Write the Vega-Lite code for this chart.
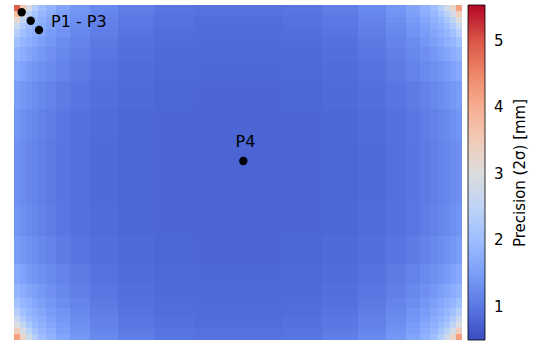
{
"$schema": "https://vega.github.io/schema/vega-lite/v6.json",
"width": 448, "height": 335,
"padding": {"left": 14, "top": 5, "right": 0, "bottom": 0},
"background": "white",
"config": {"view": {"stroke": null},
 "legend": {"gradientLength": 335, "gradientThickness": 17, "offset": 6, "padding": 0, "labelFontSize": 15, "labelFont": "DejaVu Sans", "labelColor": "black", "titleFontSize": 15, "titleFont": "DejaVu Sans", "titleFontWeight": "normal", "titleColor": "black", "gradientStrokeColor": "black", "gradientStrokeWidth": 0.8}},
"datasets": {
"cols": [{"c":0,"x0":0,"x1":6},{"c":1,"x0":6,"x1":12},{"c":2,"x0":12,"x1":18},{"c":3,"x0":18,"x1":24},{"c":4,"x0":24,"x1":32},{"c":5,"x0":32,"x1":42},{"c":6,"x0":42,"x1":56},{"c":7,"x0":56,"x1":76},{"c":8,"x0":76,"x1":104},{"c":9,"x0":104,"x1":140},{"c":10,"x0":140,"x1":180},{"c":11,"x0":180,"x1":224},{"c":12,"x0":224,"x1":268},{"c":13,"x0":268,"x1":308},{"c":14,"x0":308,"x1":344},{"c":15,"x0":344,"x1":372},{"c":16,"x0":372,"x1":392},{"c":17,"x0":392,"x1":406},{"c":18,"x0":406,"x1":416},{"c":19,"x0":416,"x1":424},{"c":20,"x0":424,"x1":430},{"c":21,"x0":430,"x1":436},{"c":22,"x0":436,"x1":442},{"c":23,"x0":442,"x1":448}],
"rows": [{"r":0,"y0":0,"y1":6},{"r":1,"y0":6,"y1":12},{"r":2,"y0":12,"y1":18},{"r":3,"y0":18,"y1":24},{"r":4,"y0":24,"y1":32},{"r":5,"y0":32,"y1":42},{"r":6,"y0":42,"y1":56},{"r":7,"y0":56,"y1":76},{"r":8,"y0":76,"y1":104},{"r":9,"y0":104,"y1":135},{"r":10,"y0":135,"y1":168},{"r":11,"y0":168,"y1":200},{"r":12,"y0":200,"y1":231},{"r":13,"y0":231,"y1":259},{"r":14,"y0":259,"y1":279},{"r":15,"y0":279,"y1":293},{"r":16,"y0":293,"y1":303},{"r":17,"y0":303,"y1":311},{"r":18,"y0":311,"y1":317},{"r":19,"y0":317,"y1":323},{"r":20,"y0":323,"y1":329},{"r":21,"y0":329,"y1":335}],
"cells": [
{"r":0,"c":0,"v":4.9},{"r":0,"c":1,"v":3.6},{"r":0,"c":2,"v":2.95},{"r":0,"c":3,"v":2.35},{"r":0,"c":4,"v":2.01},{"r":0,"c":5,"v":1.8},{"r":0,"c":6,"v":1.6},{"r":0,"c":7,"v":1.4},{"r":0,"c":8,"v":1.22},{"r":0,"c":9,"v":1.08},{"r":0,"c":10,"v":0.98},{"r":0,"c":11,"v":0.94},{"r":0,"c":12,"v":0.94},{"r":0,"c":13,"v":0.98},{"r":0,"c":14,"v":1.08},{"r":0,"c":15,"v":1.22},{"r":0,"c":16,"v":1.4},{"r":0,"c":17,"v":1.6},{"r":0,"c":18,"v":1.8},{"r":0,"c":19,"v":2.01},{"r":0,"c":20,"v":2.35},{"r":0,"c":21,"v":2.75},{"r":0,"c":22,"v":3.27},{"r":0,"c":23,"v":4.2},
{"r":1,"c":0,"v":3.8},{"r":1,"c":1,"v":3.1},{"r":1,"c":2,"v":2.42},{"r":1,"c":3,"v":2.11},{"r":1,"c":4,"v":1.89},{"r":1,"c":5,"v":1.71},{"r":1,"c":6,"v":1.52},{"r":1,"c":7,"v":1.35},{"r":1,"c":8,"v":1.18},{"r":1,"c":9,"v":1.04},{"r":1,"c":10,"v":0.95},{"r":1,"c":11,"v":0.92},{"r":1,"c":12,"v":0.92},{"r":1,"c":13,"v":0.95},{"r":1,"c":14,"v":1.04},{"r":1,"c":15,"v":1.18},{"r":1,"c":16,"v":1.35},{"r":1,"c":17,"v":1.52},{"r":1,"c":18,"v":1.71},{"r":1,"c":19,"v":1.89},{"r":1,"c":20,"v":2.11},{"r":1,"c":21,"v":2.42},{"r":1,"c":22,"v":2.86},{"r":1,"c":23,"v":3.43},
{"r":2,"c":0,"v":3.2},{"r":2,"c":1,"v":2.52},{"r":2,"c":2,"v":2.18},{"r":2,"c":3,"v":1.95},{"r":2,"c":4,"v":1.78},{"r":2,"c":5,"v":1.63},{"r":2,"c":6,"v":1.46},{"r":2,"c":7,"v":1.3},{"r":2,"c":8,"v":1.14},{"r":2,"c":9,"v":1.01},{"r":2,"c":10,"v":0.93},{"r":2,"c":11,"v":0.89},{"r":2,"c":12,"v":0.89},{"r":2,"c":13,"v":0.93},{"r":2,"c":14,"v":1.01},{"r":2,"c":15,"v":1.14},{"r":2,"c":16,"v":1.3},{"r":2,"c":17,"v":1.46},{"r":2,"c":18,"v":1.63},{"r":2,"c":19,"v":1.78},{"r":2,"c":20,"v":1.95},{"r":2,"c":21,"v":2.18},{"r":2,"c":22,"v":2.52},{"r":2,"c":23,"v":3.01},
{"r":3,"c":0,"v":2.66},{"r":3,"c":1,"v":2.27},{"r":3,"c":2,"v":1.99},{"r":3,"c":3,"v":1.83},{"r":3,"c":4,"v":1.7},{"r":3,"c":5,"v":1.55},{"r":3,"c":6,"v":1.4},{"r":3,"c":7,"v":1.26},{"r":3,"c":8,"v":1.11},{"r":3,"c":9,"v":0.99},{"r":3,"c":10,"v":0.91},{"r":3,"c":11,"v":0.88},{"r":3,"c":12,"v":0.88},{"r":3,"c":13,"v":0.91},{"r":3,"c":14,"v":0.99},{"r":3,"c":15,"v":1.11},{"r":3,"c":16,"v":1.26},{"r":3,"c":17,"v":1.4},{"r":3,"c":18,"v":1.55},{"r":3,"c":19,"v":1.7},{"r":3,"c":20,"v":1.83},{"r":3,"c":21,"v":1.99},{"r":3,"c":22,"v":2.27},{"r":3,"c":23,"v":2.66},
{"r":4,"c":0,"v":2.35},{"r":4,"c":1,"v":2.04},{"r":4,"c":2,"v":1.86},{"r":4,"c":3,"v":1.73},{"r":4,"c":4,"v":1.61},{"r":4,"c":5,"v":1.48},{"r":4,"c":6,"v":1.35},{"r":4,"c":7,"v":1.21},{"r":4,"c":8,"v":1.08},{"r":4,"c":9,"v":0.96},{"r":4,"c":10,"v":0.89},{"r":4,"c":11,"v":0.86},{"r":4,"c":12,"v":0.86},{"r":4,"c":13,"v":0.89},{"r":4,"c":14,"v":0.96},{"r":4,"c":15,"v":1.08},{"r":4,"c":16,"v":1.21},{"r":4,"c":17,"v":1.35},{"r":4,"c":18,"v":1.48},{"r":4,"c":19,"v":1.61},{"r":4,"c":20,"v":1.73},{"r":4,"c":21,"v":1.86},{"r":4,"c":22,"v":2.04},{"r":4,"c":23,"v":2.35},
{"r":5,"c":0,"v":2.06},{"r":5,"c":1,"v":1.87},{"r":5,"c":2,"v":1.74},{"r":5,"c":3,"v":1.63},{"r":5,"c":4,"v":1.51},{"r":5,"c":5,"v":1.4},{"r":5,"c":6,"v":1.28},{"r":5,"c":7,"v":1.16},{"r":5,"c":8,"v":1.03},{"r":5,"c":9,"v":0.93},{"r":5,"c":10,"v":0.87},{"r":5,"c":11,"v":0.84},{"r":5,"c":12,"v":0.84},{"r":5,"c":13,"v":0.87},{"r":5,"c":14,"v":0.93},{"r":5,"c":15,"v":1.03},{"r":5,"c":16,"v":1.16},{"r":5,"c":17,"v":1.28},{"r":5,"c":18,"v":1.4},{"r":5,"c":19,"v":1.51},{"r":5,"c":20,"v":1.63},{"r":5,"c":21,"v":1.74},{"r":5,"c":22,"v":1.87},{"r":5,"c":23,"v":2.06},
{"r":6,"c":0,"v":1.85},{"r":6,"c":1,"v":1.72},{"r":6,"c":2,"v":1.61},{"r":6,"c":3,"v":1.51},{"r":6,"c":4,"v":1.42},{"r":6,"c":5,"v":1.32},{"r":6,"c":6,"v":1.21},{"r":6,"c":7,"v":1.1},{"r":6,"c":8,"v":0.99},{"r":6,"c":9,"v":0.9},{"r":6,"c":10,"v":0.85},{"r":6,"c":11,"v":0.83},{"r":6,"c":12,"v":0.83},{"r":6,"c":13,"v":0.85},{"r":6,"c":14,"v":0.9},{"r":6,"c":15,"v":0.99},{"r":6,"c":16,"v":1.1},{"r":6,"c":17,"v":1.21},{"r":6,"c":18,"v":1.32},{"r":6,"c":19,"v":1.42},{"r":6,"c":20,"v":1.51},{"r":6,"c":21,"v":1.61},{"r":6,"c":22,"v":1.72},{"r":6,"c":23,"v":1.85},
{"r":7,"c":0,"v":1.66},{"r":7,"c":1,"v":1.56},{"r":7,"c":2,"v":1.46},{"r":7,"c":3,"v":1.39},{"r":7,"c":4,"v":1.31},{"r":7,"c":5,"v":1.23},{"r":7,"c":6,"v":1.14},{"r":7,"c":7,"v":1.04},{"r":7,"c":8,"v":0.94},{"r":7,"c":9,"v":0.87},{"r":7,"c":10,"v":0.83},{"r":7,"c":11,"v":0.81},{"r":7,"c":12,"v":0.81},{"r":7,"c":13,"v":0.83},{"r":7,"c":14,"v":0.87},{"r":7,"c":15,"v":0.94},{"r":7,"c":16,"v":1.04},{"r":7,"c":17,"v":1.14},{"r":7,"c":18,"v":1.23},{"r":7,"c":19,"v":1.31},{"r":7,"c":20,"v":1.39},{"r":7,"c":21,"v":1.46},{"r":7,"c":22,"v":1.56},{"r":7,"c":23,"v":1.66},
{"r":8,"c":0,"v":1.49},{"r":8,"c":1,"v":1.41},{"r":8,"c":2,"v":1.34},{"r":8,"c":3,"v":1.27},{"r":8,"c":4,"v":1.21},{"r":8,"c":5,"v":1.14},{"r":8,"c":6,"v":1.06},{"r":8,"c":7,"v":0.98},{"r":8,"c":8,"v":0.9},{"r":8,"c":9,"v":0.84},{"r":8,"c":10,"v":0.8},{"r":8,"c":11,"v":0.79},{"r":8,"c":12,"v":0.79},{"r":8,"c":13,"v":0.8},{"r":8,"c":14,"v":0.84},{"r":8,"c":15,"v":0.9},{"r":8,"c":16,"v":0.98},{"r":8,"c":17,"v":1.06},{"r":8,"c":18,"v":1.14},{"r":8,"c":19,"v":1.21},{"r":8,"c":20,"v":1.27},{"r":8,"c":21,"v":1.34},{"r":8,"c":22,"v":1.41},{"r":8,"c":23,"v":1.49},
{"r":9,"c":0,"v":1.38},{"r":9,"c":1,"v":1.3},{"r":9,"c":2,"v":1.24},{"r":9,"c":3,"v":1.19},{"r":9,"c":4,"v":1.13},{"r":9,"c":5,"v":1.07},{"r":9,"c":6,"v":1.0},{"r":9,"c":7,"v":0.93},{"r":9,"c":8,"v":0.86},{"r":9,"c":9,"v":0.82},{"r":9,"c":10,"v":0.79},{"r":9,"c":11,"v":0.78},{"r":9,"c":12,"v":0.78},{"r":9,"c":13,"v":0.79},{"r":9,"c":14,"v":0.82},{"r":9,"c":15,"v":0.86},{"r":9,"c":16,"v":0.93},{"r":9,"c":17,"v":1.0},{"r":9,"c":18,"v":1.07},{"r":9,"c":19,"v":1.13},{"r":9,"c":20,"v":1.19},{"r":9,"c":21,"v":1.24},{"r":9,"c":22,"v":1.3},{"r":9,"c":23,"v":1.38},
{"r":10,"c":0,"v":1.32},{"r":10,"c":1,"v":1.26},{"r":10,"c":2,"v":1.2},{"r":10,"c":3,"v":1.15},{"r":10,"c":4,"v":1.1},{"r":10,"c":5,"v":1.04},{"r":10,"c":6,"v":0.98},{"r":10,"c":7,"v":0.91},{"r":10,"c":8,"v":0.85},{"r":10,"c":9,"v":0.8},{"r":10,"c":10,"v":0.79},{"r":10,"c":11,"v":0.78},{"r":10,"c":12,"v":0.78},{"r":10,"c":13,"v":0.79},{"r":10,"c":14,"v":0.8},{"r":10,"c":15,"v":0.85},{"r":10,"c":16,"v":0.91},{"r":10,"c":17,"v":0.98},{"r":10,"c":18,"v":1.04},{"r":10,"c":19,"v":1.1},{"r":10,"c":20,"v":1.15},{"r":10,"c":21,"v":1.2},{"r":10,"c":22,"v":1.26},{"r":10,"c":23,"v":1.32},
{"r":11,"c":0,"v":1.32},{"r":11,"c":1,"v":1.26},{"r":11,"c":2,"v":1.2},{"r":11,"c":3,"v":1.15},{"r":11,"c":4,"v":1.1},{"r":11,"c":5,"v":1.04},{"r":11,"c":6,"v":0.98},{"r":11,"c":7,"v":0.91},{"r":11,"c":8,"v":0.85},{"r":11,"c":9,"v":0.8},{"r":11,"c":10,"v":0.79},{"r":11,"c":11,"v":0.78},{"r":11,"c":12,"v":0.78},{"r":11,"c":13,"v":0.79},{"r":11,"c":14,"v":0.8},{"r":11,"c":15,"v":0.85},{"r":11,"c":16,"v":0.91},{"r":11,"c":17,"v":0.98},{"r":11,"c":18,"v":1.04},{"r":11,"c":19,"v":1.1},{"r":11,"c":20,"v":1.15},{"r":11,"c":21,"v":1.2},{"r":11,"c":22,"v":1.26},{"r":11,"c":23,"v":1.32},
{"r":12,"c":0,"v":1.38},{"r":12,"c":1,"v":1.3},{"r":12,"c":2,"v":1.24},{"r":12,"c":3,"v":1.19},{"r":12,"c":4,"v":1.13},{"r":12,"c":5,"v":1.07},{"r":12,"c":6,"v":1.0},{"r":12,"c":7,"v":0.93},{"r":12,"c":8,"v":0.86},{"r":12,"c":9,"v":0.82},{"r":12,"c":10,"v":0.79},{"r":12,"c":11,"v":0.78},{"r":12,"c":12,"v":0.78},{"r":12,"c":13,"v":0.79},{"r":12,"c":14,"v":0.82},{"r":12,"c":15,"v":0.86},{"r":12,"c":16,"v":0.93},{"r":12,"c":17,"v":1.0},{"r":12,"c":18,"v":1.07},{"r":12,"c":19,"v":1.13},{"r":12,"c":20,"v":1.19},{"r":12,"c":21,"v":1.24},{"r":12,"c":22,"v":1.3},{"r":12,"c":23,"v":1.38},
{"r":13,"c":0,"v":1.49},{"r":13,"c":1,"v":1.41},{"r":13,"c":2,"v":1.34},{"r":13,"c":3,"v":1.27},{"r":13,"c":4,"v":1.21},{"r":13,"c":5,"v":1.14},{"r":13,"c":6,"v":1.06},{"r":13,"c":7,"v":0.98},{"r":13,"c":8,"v":0.9},{"r":13,"c":9,"v":0.84},{"r":13,"c":10,"v":0.8},{"r":13,"c":11,"v":0.79},{"r":13,"c":12,"v":0.79},{"r":13,"c":13,"v":0.8},{"r":13,"c":14,"v":0.84},{"r":13,"c":15,"v":0.9},{"r":13,"c":16,"v":0.98},{"r":13,"c":17,"v":1.06},{"r":13,"c":18,"v":1.14},{"r":13,"c":19,"v":1.21},{"r":13,"c":20,"v":1.27},{"r":13,"c":21,"v":1.34},{"r":13,"c":22,"v":1.41},{"r":13,"c":23,"v":1.49},
{"r":14,"c":0,"v":1.66},{"r":14,"c":1,"v":1.56},{"r":14,"c":2,"v":1.46},{"r":14,"c":3,"v":1.39},{"r":14,"c":4,"v":1.31},{"r":14,"c":5,"v":1.23},{"r":14,"c":6,"v":1.14},{"r":14,"c":7,"v":1.04},{"r":14,"c":8,"v":0.94},{"r":14,"c":9,"v":0.87},{"r":14,"c":10,"v":0.83},{"r":14,"c":11,"v":0.81},{"r":14,"c":12,"v":0.81},{"r":14,"c":13,"v":0.83},{"r":14,"c":14,"v":0.87},{"r":14,"c":15,"v":0.94},{"r":14,"c":16,"v":1.04},{"r":14,"c":17,"v":1.14},{"r":14,"c":18,"v":1.23},{"r":14,"c":19,"v":1.31},{"r":14,"c":20,"v":1.39},{"r":14,"c":21,"v":1.46},{"r":14,"c":22,"v":1.56},{"r":14,"c":23,"v":1.66},
{"r":15,"c":0,"v":1.85},{"r":15,"c":1,"v":1.72},{"r":15,"c":2,"v":1.61},{"r":15,"c":3,"v":1.51},{"r":15,"c":4,"v":1.42},{"r":15,"c":5,"v":1.32},{"r":15,"c":6,"v":1.21},{"r":15,"c":7,"v":1.1},{"r":15,"c":8,"v":0.99},{"r":15,"c":9,"v":0.9},{"r":15,"c":10,"v":0.85},{"r":15,"c":11,"v":0.83},{"r":15,"c":12,"v":0.83},{"r":15,"c":13,"v":0.85},{"r":15,"c":14,"v":0.9},{"r":15,"c":15,"v":0.99},{"r":15,"c":16,"v":1.1},{"r":15,"c":17,"v":1.21},{"r":15,"c":18,"v":1.32},{"r":15,"c":19,"v":1.42},{"r":15,"c":20,"v":1.51},{"r":15,"c":21,"v":1.61},{"r":15,"c":22,"v":1.72},{"r":15,"c":23,"v":1.85},
{"r":16,"c":0,"v":2.06},{"r":16,"c":1,"v":1.87},{"r":16,"c":2,"v":1.74},{"r":16,"c":3,"v":1.63},{"r":16,"c":4,"v":1.51},{"r":16,"c":5,"v":1.4},{"r":16,"c":6,"v":1.28},{"r":16,"c":7,"v":1.16},{"r":16,"c":8,"v":1.03},{"r":16,"c":9,"v":0.93},{"r":16,"c":10,"v":0.87},{"r":16,"c":11,"v":0.84},{"r":16,"c":12,"v":0.84},{"r":16,"c":13,"v":0.87},{"r":16,"c":14,"v":0.93},{"r":16,"c":15,"v":1.03},{"r":16,"c":16,"v":1.16},{"r":16,"c":17,"v":1.28},{"r":16,"c":18,"v":1.4},{"r":16,"c":19,"v":1.51},{"r":16,"c":20,"v":1.63},{"r":16,"c":21,"v":1.74},{"r":16,"c":22,"v":1.87},{"r":16,"c":23,"v":2.06},
{"r":17,"c":0,"v":2.35},{"r":17,"c":1,"v":2.04},{"r":17,"c":2,"v":1.86},{"r":17,"c":3,"v":1.73},{"r":17,"c":4,"v":1.61},{"r":17,"c":5,"v":1.48},{"r":17,"c":6,"v":1.35},{"r":17,"c":7,"v":1.21},{"r":17,"c":8,"v":1.08},{"r":17,"c":9,"v":0.96},{"r":17,"c":10,"v":0.89},{"r":17,"c":11,"v":0.86},{"r":17,"c":12,"v":0.86},{"r":17,"c":13,"v":0.89},{"r":17,"c":14,"v":0.96},{"r":17,"c":15,"v":1.08},{"r":17,"c":16,"v":1.21},{"r":17,"c":17,"v":1.35},{"r":17,"c":18,"v":1.48},{"r":17,"c":19,"v":1.61},{"r":17,"c":20,"v":1.73},{"r":17,"c":21,"v":1.86},{"r":17,"c":22,"v":2.04},{"r":17,"c":23,"v":2.35},
{"r":18,"c":0,"v":2.66},{"r":18,"c":1,"v":2.27},{"r":18,"c":2,"v":1.99},{"r":18,"c":3,"v":1.83},{"r":18,"c":4,"v":1.7},{"r":18,"c":5,"v":1.55},{"r":18,"c":6,"v":1.4},{"r":18,"c":7,"v":1.26},{"r":18,"c":8,"v":1.11},{"r":18,"c":9,"v":0.99},{"r":18,"c":10,"v":0.91},{"r":18,"c":11,"v":0.88},{"r":18,"c":12,"v":0.88},{"r":18,"c":13,"v":0.91},{"r":18,"c":14,"v":0.99},{"r":18,"c":15,"v":1.11},{"r":18,"c":16,"v":1.26},{"r":18,"c":17,"v":1.4},{"r":18,"c":18,"v":1.55},{"r":18,"c":19,"v":1.7},{"r":18,"c":20,"v":1.83},{"r":18,"c":21,"v":1.99},{"r":18,"c":22,"v":2.27},{"r":18,"c":23,"v":2.66},
{"r":19,"c":0,"v":3.01},{"r":19,"c":1,"v":2.52},{"r":19,"c":2,"v":2.18},{"r":19,"c":3,"v":1.95},{"r":19,"c":4,"v":1.78},{"r":19,"c":5,"v":1.63},{"r":19,"c":6,"v":1.46},{"r":19,"c":7,"v":1.3},{"r":19,"c":8,"v":1.14},{"r":19,"c":9,"v":1.01},{"r":19,"c":10,"v":0.93},{"r":19,"c":11,"v":0.89},{"r":19,"c":12,"v":0.89},{"r":19,"c":13,"v":0.93},{"r":19,"c":14,"v":1.01},{"r":19,"c":15,"v":1.14},{"r":19,"c":16,"v":1.3},{"r":19,"c":17,"v":1.46},{"r":19,"c":18,"v":1.63},{"r":19,"c":19,"v":1.78},{"r":19,"c":20,"v":1.95},{"r":19,"c":21,"v":2.18},{"r":19,"c":22,"v":2.52},{"r":19,"c":23,"v":3.01},
{"r":20,"c":0,"v":3.43},{"r":20,"c":1,"v":2.86},{"r":20,"c":2,"v":2.42},{"r":20,"c":3,"v":2.11},{"r":20,"c":4,"v":1.89},{"r":20,"c":5,"v":1.71},{"r":20,"c":6,"v":1.52},{"r":20,"c":7,"v":1.35},{"r":20,"c":8,"v":1.18},{"r":20,"c":9,"v":1.04},{"r":20,"c":10,"v":0.95},{"r":20,"c":11,"v":0.92},{"r":20,"c":12,"v":0.92},{"r":20,"c":13,"v":0.95},{"r":20,"c":14,"v":1.04},{"r":20,"c":15,"v":1.18},{"r":20,"c":16,"v":1.35},{"r":20,"c":17,"v":1.52},{"r":20,"c":18,"v":1.71},{"r":20,"c":19,"v":1.89},{"r":20,"c":20,"v":2.11},{"r":20,"c":21,"v":2.42},{"r":20,"c":22,"v":2.86},{"r":20,"c":23,"v":3.43},
{"r":21,"c":0,"v":4.2},{"r":21,"c":1,"v":3.27},{"r":21,"c":2,"v":2.75},{"r":21,"c":3,"v":2.35},{"r":21,"c":4,"v":2.01},{"r":21,"c":5,"v":1.8},{"r":21,"c":6,"v":1.6},{"r":21,"c":7,"v":1.4},{"r":21,"c":8,"v":1.22},{"r":21,"c":9,"v":1.08},{"r":21,"c":10,"v":0.98},{"r":21,"c":11,"v":0.94},{"r":21,"c":12,"v":0.94},{"r":21,"c":13,"v":0.98},{"r":21,"c":14,"v":1.08},{"r":21,"c":15,"v":1.22},{"r":21,"c":16,"v":1.4},{"r":21,"c":17,"v":1.6},{"r":21,"c":18,"v":1.8},{"r":21,"c":19,"v":2.01},{"r":21,"c":20,"v":2.35},{"r":21,"c":21,"v":2.75},{"r":21,"c":22,"v":3.27},{"r":21,"c":23,"v":4.2}
],
"pts": [{"x":7.7,"y":7.3},{"x":16.7,"y":15.7},{"x":25,"y":25},{"x":229.3,"y":156}],
"labels": [{"x":37,"y":22.3,"t":"P1 - P3"},{"x":221.5,"y":141.7,"t":"P4"}]
},
"layer": [
 {"data": {"name": "cells"},
  "transform": [
   {"lookup": "c", "from": {"data": {"name": "cols"}, "key": "c", "fields": ["x0", "x1"]}},
   {"lookup": "r", "from": {"data": {"name": "rows"}, "key": "r", "fields": ["y0", "y1"]}}
  ],
  "mark": {"type": "rect", "strokeWidth": 0},
  "encoding": {
   "x": {"field": "x0", "type": "quantitative", "scale": {"domain": [0, 448], "nice": false, "zero": false}, "axis": null},
   "x2": {"field": "x1"},
   "y": {"field": "y0", "type": "quantitative", "scale": {"domain": [0, 335], "nice": false, "zero": false, "reverse": true}, "axis": null},
   "y2": {"field": "y1"},
   "color": {"field": "v", "type": "quantitative",
    "scale": {"domain": [0.5,0.815,1.13,1.445,1.76,2.075,2.39,2.705,3.02,3.335,3.65,3.965,4.28,4.595,4.91,5.225,5.54],
              "range": ["#3b4cc0","#4d68d7","#6282ea","#779af7","#8db0fe","#a3c2ff","#b8d0f9","#ccd9ee","#dddddd","#ecd3c5","#f5c4ac","#f7b194","#f49a7b","#ec7f63","#de604d","#cb3e38","#b40426"],
              "interpolate": "rgb"},
    "legend": {"title": "Precision (2σ) [mm]", "values": [1, 2, 3, 4, 5], "titleOrient": "right", "titleAnchor": "middle", "titlePadding": 10, "labelOffset": 9,
      "encode": {"title": {"update": {"angle": {"value": 270}, "dy": {"value": 14}}}}}}
  }},
 {"data": {"name": "pts"},
  "mark": {"type": "circle", "color": "black", "size": 70, "opacity": 1},
  "encoding": {
   "x": {"field": "x", "type": "quantitative", "scale": {"domain": [0, 448], "nice": false, "zero": false}, "axis": null},
   "y": {"field": "y", "type": "quantitative", "scale": {"domain": [0, 335], "nice": false, "zero": false, "reverse": true}, "axis": null}
  }},
 {"data": {"name": "labels"},
  "mark": {"type": "text", "align": "left", "baseline": "alphabetic", "font": "DejaVu Sans", "fontSize": 16, "color": "black"},
  "encoding": {
   "x": {"field": "x", "type": "quantitative", "scale": {"domain": [0, 448], "nice": false, "zero": false}, "axis": null},
   "y": {"field": "y", "type": "quantitative", "scale": {"domain": [0, 335], "nice": false, "zero": false, "reverse": true}, "axis": null},
   "text": {"field": "t"}
  }}
]
}
